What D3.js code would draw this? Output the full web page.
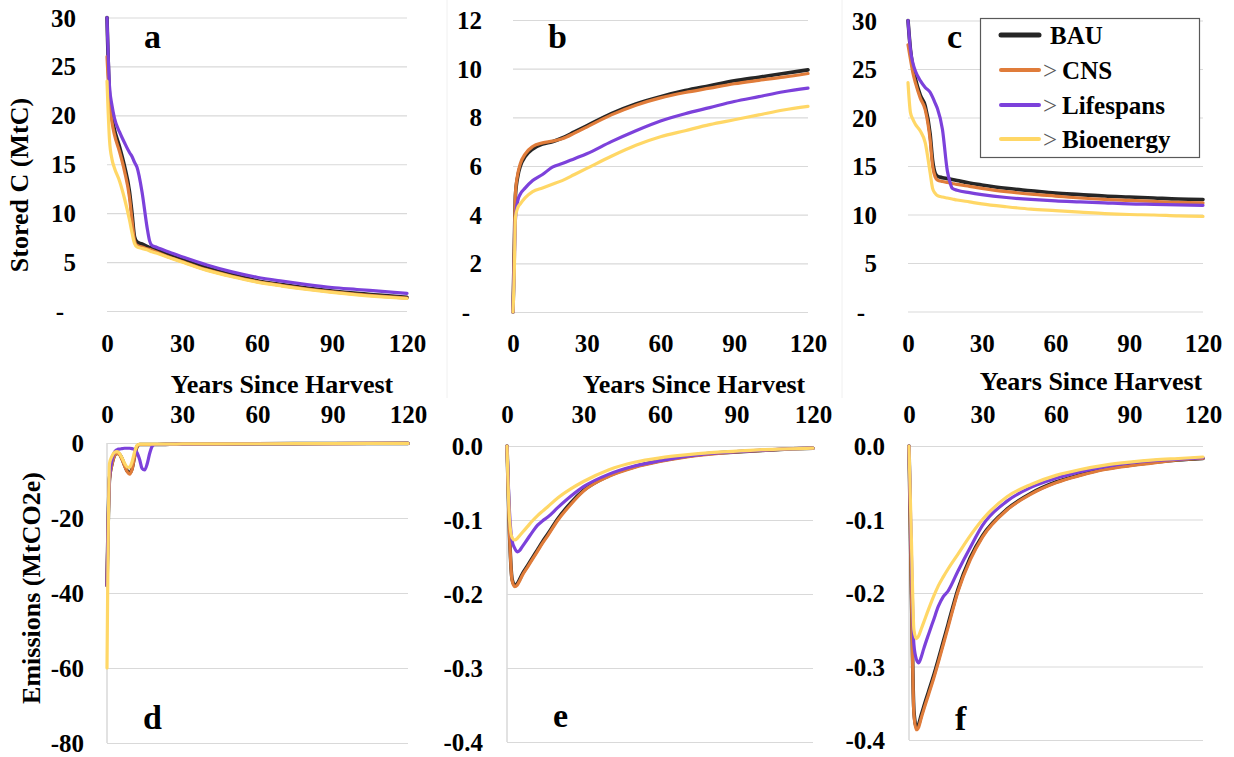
<!DOCTYPE html>
<html>
<head>
<meta charset="utf-8">
<script src="https://cdn.jsdelivr.net/npm/d3@7"></script>
<style>
  html, body { margin: 0; padding: 0; background: #ffffff; }
  svg { display: block; }
  svg text { font-family: 'Liberation Serif', 'DejaVu Serif', 'Noto Serif', Tinos, 'Times New Roman', serif !important; font-weight: bold; }
</style>
</head>
<body>
<svg id="chart" width="1234" height="757"></svg>
<script>
// ---------------- DATA ----------------
const seriesNames = ["BAU", "CNS", "Lifespans", "Bioenergy"];
const legendLabels = ["BAU", "> CNS", "> Lifespans", "> Bioenergy"];

// Panel a: stored carbon (MtC)
const yearsA = [0,1,2,3,5,7,9,10,11,12,14,16,17,18,20,25,30,40,50,60,70,80,90,100,110,120];
const aBAU  = [30,22,19.8,18.5,16.8,14.8,12.2,10.0,7.6,7.05,6.85,6.6,6.5,6.4,6.2,5.7,5.25,4.4,3.7,3.1,2.7,2.35,2.05,1.8,1.6,1.4];
const aCNS  = [26,21.5,19.3,18.0,16.3,14.3,11.6,9.3,7.2,6.7,6.55,6.35,6.3,6.2,6.0,5.5,5.05,4.2,3.55,3.0,2.6,2.25,1.95,1.7,1.5,1.32];
const aLife = [30,23,21,19.7,18.3,17.2,16.2,15.8,15.2,14.7,12.2,8.6,7.2,6.7,6.5,6.0,5.55,4.7,4.0,3.45,3.05,2.7,2.4,2.2,2.0,1.8];
const aBio  = [23.5,17.5,15.5,14.6,13.3,11.5,9.3,8.0,6.9,6.55,6.4,6.25,6.15,6.05,5.9,5.45,5.0,4.15,3.5,2.95,2.55,2.2,1.9,1.65,1.45,1.28];

// Panel b: stored carbon (MtC)
const yearsB = [0,0.5,1,2,3,5,8,12,16,20,25,30,40,50,60,70,80,90,100,110,120];
const bBAU  = [0,2.5,4.8,5.6,6.0,6.4,6.7,6.9,7.0,7.15,7.4,7.65,8.15,8.55,8.85,9.1,9.3,9.5,9.65,9.8,9.95];
const bCNS  = [0,2.5,4.9,5.7,6.1,6.5,6.8,6.95,7.02,7.12,7.35,7.6,8.1,8.5,8.8,9.02,9.2,9.38,9.52,9.65,9.8];
const bLife = [0,1.8,3.8,4.6,4.85,5.1,5.4,5.65,5.95,6.1,6.3,6.5,7.0,7.45,7.85,8.15,8.4,8.65,8.85,9.05,9.2];
const bBio  = [0,1.5,3.9,4.3,4.45,4.7,4.95,5.1,5.25,5.4,5.65,5.9,6.4,6.85,7.2,7.45,7.7,7.9,8.1,8.3,8.45];

// Panel c: stored carbon (MtC)
const yearsC = yearsA;
const cBAU  = [30,27,25.2,24,22.3,21.2,18.3,15.6,14.3,13.95,13.8,13.7,13.65,13.6,13.5,13.25,13.05,12.7,12.45,12.2,12.05,11.9,11.8,11.7,11.6,11.55];
const cCNS  = [27.5,26,24.6,23.6,22,20.8,17.7,15.0,13.9,13.55,13.4,13.3,13.25,13.2,13.1,12.9,12.7,12.35,12.1,11.9,11.7,11.55,11.45,11.35,11.25,11.2];
const cLife = [30,27,25.6,24.8,23.8,23.1,22.6,22.1,21.5,20.9,18.8,14.5,13.4,12.7,12.5,12.25,12.05,11.75,11.55,11.4,11.3,11.2,11.1,11.05,11.0,10.95];
const cBio  = [23.6,20.5,19.8,19.3,18.6,17.4,14.3,12.7,12.2,11.95,11.8,11.7,11.65,11.6,11.5,11.3,11.1,10.8,10.55,10.4,10.25,10.1,10.0,9.95,9.85,9.8];

// Panel d: emissions (MtCO2e)
const yearsD = [0,1,2,3,4,5,6,7,8,9,10,11,12,13,14,15,16,17,18,19,20,25,30,60,90,120];
const dBAU  = [-38,-9.5,-5.5,-3.3,-2.7,-3.0,-4.2,-5.9,-7.4,-8.0,-6.8,-3.5,-0.9,-0.4,-0.4,-0.4,-0.4,-0.4,-0.4,-0.4,-0.4,-0.35,-0.3,-0.2,-0.15,-0.1];
const dCNS  = [-38,-9.8,-5.7,-3.4,-2.8,-3.1,-4.4,-6.1,-7.6,-8.3,-7.0,-3.6,-0.9,-0.4,-0.4,-0.4,-0.4,-0.4,-0.4,-0.4,-0.4,-0.35,-0.3,-0.2,-0.15,-0.1];
const dLife = [-38,-9.0,-4.5,-2.4,-1.8,-1.6,-1.5,-1.4,-1.4,-1.4,-1.5,-1.8,-2.6,-4.4,-6.8,-7.2,-5.6,-2.8,-0.9,-0.4,-0.4,-0.35,-0.3,-0.2,-0.15,-0.1];
const dBio  = [-60,-5.5,-3.5,-2.5,-2.3,-2.8,-4.0,-5.4,-6.4,-6.5,-5.0,-2.4,-0.6,-0.3,-0.3,-0.3,-0.3,-0.3,-0.3,-0.3,-0.3,-0.3,-0.25,-0.2,-0.15,-0.1];

// Panel e: emissions
const yearsE = [0,1,2,3,4,5,6,8,10,12,14,16,20,25,30,40,50,60,70,80,90,100,110,120];
const eBAU  = [0,-0.12,-0.18,-0.188,-0.186,-0.18,-0.173,-0.162,-0.151,-0.14,-0.129,-0.119,-0.098,-0.077,-0.060,-0.040,-0.028,-0.020,-0.014,-0.010,-0.008,-0.006,-0.004,-0.003];
const eCNS  = [0,-0.12,-0.182,-0.19,-0.188,-0.182,-0.175,-0.164,-0.153,-0.142,-0.131,-0.121,-0.100,-0.079,-0.061,-0.041,-0.029,-0.021,-0.015,-0.011,-0.008,-0.006,-0.004,-0.003];
const eLife = [0,-0.09,-0.128,-0.138,-0.143,-0.141,-0.136,-0.126,-0.116,-0.107,-0.101,-0.096,-0.083,-0.068,-0.055,-0.038,-0.027,-0.020,-0.014,-0.010,-0.0075,-0.0055,-0.004,-0.003];
const eBio  = [0,-0.10,-0.124,-0.127,-0.125,-0.121,-0.117,-0.109,-0.101,-0.094,-0.088,-0.082,-0.070,-0.058,-0.048,-0.032,-0.022,-0.016,-0.012,-0.009,-0.007,-0.005,-0.004,-0.003];

// Panel f: emissions
const yearsF = yearsE;
const fBAU  = [0,-0.2,-0.36,-0.382,-0.378,-0.366,-0.355,-0.334,-0.313,-0.29,-0.266,-0.242,-0.195,-0.152,-0.122,-0.086,-0.064,-0.049,-0.039,-0.031,-0.026,-0.022,-0.019,-0.017];
const fCNS  = [0,-0.2,-0.365,-0.386,-0.382,-0.37,-0.359,-0.338,-0.317,-0.294,-0.27,-0.246,-0.198,-0.155,-0.124,-0.087,-0.065,-0.050,-0.040,-0.032,-0.027,-0.023,-0.019,-0.017];
const fLife = [0,-0.15,-0.27,-0.29,-0.295,-0.287,-0.276,-0.256,-0.237,-0.218,-0.205,-0.197,-0.17,-0.138,-0.108,-0.075,-0.056,-0.044,-0.035,-0.028,-0.023,-0.020,-0.018,-0.016];
const fBio  = [0,-0.13,-0.25,-0.262,-0.258,-0.249,-0.24,-0.222,-0.205,-0.19,-0.178,-0.167,-0.147,-0.122,-0.10,-0.069,-0.052,-0.040,-0.032,-0.026,-0.022,-0.019,-0.017,-0.015];

// Tick values
const xTicks = [0,30,60,90,120];
const ticksStoredA = [0,5,10,15,20,25,30];
const ticksStoredB = [0,2,4,6,8,10,12];
const ticksEmisD = [0,-20,-40,-60,-80];
const ticksEmisEF = [0,-0.1,-0.2,-0.3,-0.4];

// ---------------- STYLE / LAYOUT ----------------
const FONT = "'Liberation Serif', 'DejaVu Serif', 'Noto Serif', Tinos, 'Times New Roman', serif";
const colors = { BAU: "#262626", CNS: "#E07C3A", Lifespans: "#7C41DB", Bioenergy: "#FFD766" };
const widths = { BAU: 3.6, CNS: 3.2, Lifespans: 3.2, Bioenergy: 3.2 };
const FS = 25;

const panels = [
  { id:"a", years: yearsA, data:[aBAU,aCNS,aLife,aBio], x0:107, x1:407, yTop:17.5, yBot:311, dom:[0,30], ticks:ticksStoredA, fmt:"int", labR:76, xTickY:343, lab:[144,48] },
  { id:"b", years: yearsB, data:[bBAU,bCNS,bLife,bBio], x0:513, x1:808, yTop:20, yBot:312, dom:[0,12], ticks:ticksStoredB, fmt:"int", labR:482, xTickY:343, lab:[548,48] },
  { id:"c", years: yearsC, data:[cBAU,cCNS,cLife,cBio], x0:908, x1:1203, yTop:20.5, yBot:311.5, dom:[0,30], ticks:ticksStoredA, fmt:"int", labR:877, xTickY:343, lab:[947,48] },
  { id:"d", years: yearsD, data:[dBAU,dCNS,dLife,dBio], x0:107, x1:408, yTop:443, yBot:743, dom:[-80,0], ticks:ticksEmisD, fmt:"neg", labR:84, xTickY:414, lab:[143,729], axisLine:true },
  { id:"e", years: yearsE, data:[eBAU,eCNS,eLife,eBio], x0:507, x1:813, yTop:446, yBot:742, dom:[-0.4,0], ticks:ticksEmisEF, fmt:"dec", labR:483, xTickY:414, lab:[553,727], axisLine:true },
  { id:"f", years: yearsF, data:[fBAU,fCNS,fLife,fBio], x0:909, x1:1203, yTop:446, yBot:740, dom:[-0.4,0], ticks:ticksEmisEF, fmt:"dec", labR:885, xTickY:414, lab:[955,730], axisLine:true }
];

const svg = d3.select("#chart").attr("font-family", FONT).attr("font-weight", "bold");
svg.append("rect").attr("width",1234).attr("height",757).attr("fill","#fff");

// faint chart-area borders
[447, 842].forEach(x => svg.append("line").attr("x1",x).attr("x2",x).attr("y1",0).attr("y2",398)
  .attr("stroke","#f0f0f0").attr("stroke-width",1));

function fmtTick(kind) {
  return v => {
    if (kind === "int") return v === 0 ? "-" : String(v);
    if (kind === "neg") return v === 0 ? "0" : "-" + Math.abs(v);
    return v === 0 ? "0.0" : "-" + Math.abs(v).toFixed(1);
  };
}

function styleText(sel) {
  sel.attr("font-family", FONT).attr("font-weight", "bold").attr("fill", "#000");
}

panels.forEach(p => {
  const x = d3.scaleLinear().domain([0,120]).range([p.x0, p.x1]);
  const y = d3.scaleLinear().domain(p.dom).range([p.yBot, p.yTop]);
  const g = svg.append("g");

  // gridlines
  const grid = g.append("g").attr("transform", `translate(${p.x0},0)`)
    .call(d3.axisLeft(y).tickValues(p.ticks).tickSize(-(p.x1 - p.x0)).tickFormat(""));
  grid.select(".domain").remove();
  grid.selectAll("line").attr("stroke", "#d9d9d9").attr("stroke-width", 1.2);

  if (p.axisLine) {
    g.append("line").attr("x1", p.x0).attr("x2", p.x0).attr("y1", p.yTop).attr("y2", p.yBot)
      .attr("stroke", "#d9d9d9").attr("stroke-width", 1.5);
  }

  // y tick labels
  const ya = g.append("g").attr("transform", `translate(${p.labR},0)`)
    .call(d3.axisLeft(y).tickValues(p.ticks).tickSize(0).tickPadding(0).tickFormat(fmtTick(p.fmt)));
  ya.attr("font-family", FONT);
  ya.select(".domain").remove();
  ya.selectAll("text").attr("font-size", FS).attr("dy", null).attr("dominant-baseline", "central")
    .call(styleText)
    .attr("x", d => (p.fmt === "int" && d === 0) ? -12 : 0);

  // x tick labels
  const xa = g.append("g").attr("transform", `translate(0,${p.xTickY})`)
    .call(d3.axisBottom(x).tickValues(xTicks).tickSize(0).tickPadding(0).tickFormat(d3.format("d")));
  xa.attr("font-family", FONT);
  xa.select(".domain").remove();
  xa.selectAll("text").attr("font-size", FS).attr("dy", null).attr("y", 0).attr("dominant-baseline", "central")
    .call(styleText);

  // lines
  const line = d3.line().x(d => x(d[0])).y(d => y(d[1])).curve(d3.curveMonotoneX);
  seriesNames.forEach((name, i) => {
    const pts = p.years.map((t, k) => [t, p.data[i][k]]);
    g.append("path").datum(pts).attr("d", line)
      .attr("fill", "none").attr("stroke", colors[name]).attr("stroke-width", widths[name])
      .attr("stroke-linejoin", "round").attr("stroke-linecap", "round");
  });

  // panel letter
  g.append("text").attr("x", p.lab[0]).attr("y", p.lab[1]).attr("font-size", 34).call(styleText).text(p.id);
});

// x-axis titles
[[282, 393], [694, 393], [1091, 390]].forEach(([cx, by]) => {
  svg.append("text").attr("x", cx).attr("y", by).attr("text-anchor", "middle")
    .attr("font-size", 26).call(styleText).text("Years Since Harvest");
});

// y-axis titles
svg.append("text").attr("transform", "translate(28,185) rotate(-90)").attr("text-anchor", "middle")
  .attr("font-size", 26).call(styleText).text("Stored C (MtC)");
svg.append("text").attr("transform", "translate(40,588) rotate(-90)").attr("text-anchor", "middle")
  .attr("font-size", 26).call(styleText).text("Emissions (MtCO2e)");

// legend
const lg = svg.append("g");
lg.append("rect").attr("x", 980.5).attr("y", 18.5).attr("width", 219).attr("height", 139)
  .attr("fill", "#fff").attr("stroke", "#595959").attr("stroke-width", 1.2);
const rowsY = [35, 70, 105, 139];
seriesNames.forEach((name, i) => {
  lg.append("line").attr("x1", 1001).attr("x2", 1039).attr("y1", rowsY[i]).attr("y2", rowsY[i])
    .attr("stroke", colors[name]).attr("stroke-width", name === "BAU" ? 5 : 4).attr("stroke-linecap", "round");
  const t = lg.append("text").attr("y", rowsY[i] + 9).attr("font-size", 25).call(styleText);
  const lbl = legendLabels[i];
  if (lbl.startsWith(">")) {
    t.attr("x", 1043);
    t.append("tspan").attr("font-weight", "normal").attr("fill", "#595959").text(">");
    t.append("tspan").attr("dx", 5).text(lbl.slice(2));
  } else {
    t.attr("x", 1050).text(lbl);
  }
});
</script>
</body>
</html>
